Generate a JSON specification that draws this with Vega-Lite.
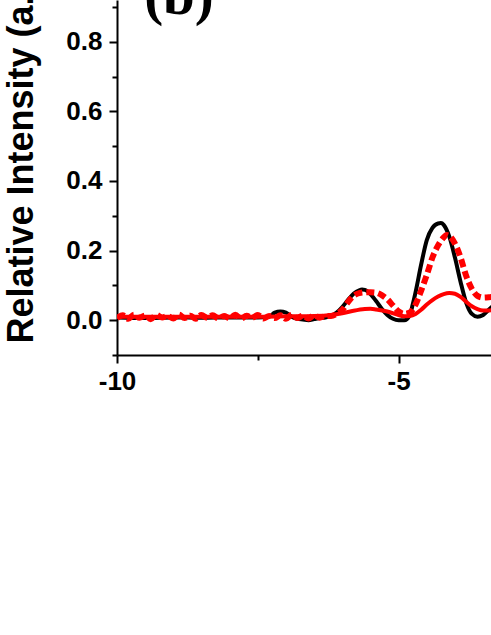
{
  "$schema": "https://vega.github.io/schema/vega-lite/v6.json",
  "width": 374,
  "height": 355,
  "autosize": {"type": "none"},
  "padding": {"left": 117, "top": 0, "right": 0, "bottom": 280},
  "background": "white",
  "config": {
    "view": {"stroke": null},
    "axis": {"grid": false, "domainColor": "black", "tickColor": "black", "domainWidth": 2, "tickWidth": 2,
      "labelFont": "Liberation Sans", "labelFontWeight": "bold", "labelFontSize": 26, "labelColor": "black"}
  },
  "datasets": {
    "curves": [
      {"series": "black", "x": -10, "y": 0.008}, {"series": "black", "x": -9.5, "y": 0.006}, {"series": "black", "x": -9.0, "y": 0.008},
      {"series": "black", "x": -8.5, "y": 0.007}, {"series": "black", "x": -8.0, "y": 0.008}, {"series": "black", "x": -7.5, "y": 0.008},
      {"series": "black", "x": -7.3, "y": 0.01}, {"series": "black", "x": -7.2, "y": 0.022}, {"series": "black", "x": -7.1, "y": 0.025},
      {"series": "black", "x": -7.0, "y": 0.022}, {"series": "black", "x": -6.9, "y": 0.01}, {"series": "black", "x": -6.8, "y": 0.004},
      {"series": "black", "x": -6.7, "y": 0.002}, {"series": "black", "x": -6.6, "y": 0.0}, {"series": "black", "x": -6.5, "y": 0.003},
      {"series": "black", "x": -6.4, "y": 0.006}, {"series": "black", "x": -6.3, "y": 0.008}, {"series": "black", "x": -6.2, "y": 0.012},
      {"series": "black", "x": -6.1, "y": 0.022}, {"series": "black", "x": -6.0, "y": 0.038}, {"series": "black", "x": -5.9, "y": 0.058},
      {"series": "black", "x": -5.8, "y": 0.076}, {"series": "black", "x": -5.7, "y": 0.086}, {"series": "black", "x": -5.65, "y": 0.088},
      {"series": "black", "x": -5.6, "y": 0.087}, {"series": "black", "x": -5.5, "y": 0.075}, {"series": "black", "x": -5.4, "y": 0.055},
      {"series": "black", "x": -5.3, "y": 0.033}, {"series": "black", "x": -5.2, "y": 0.015}, {"series": "black", "x": -5.1, "y": 0.004},
      {"series": "black", "x": -5.0, "y": 0.0}, {"series": "black", "x": -4.9, "y": 0.0}, {"series": "black", "x": -4.8, "y": 0.015},
      {"series": "black", "x": -4.75, "y": 0.045}, {"series": "black", "x": -4.7, "y": 0.08}, {"series": "black", "x": -4.6, "y": 0.16},
      {"series": "black", "x": -4.5, "y": 0.23}, {"series": "black", "x": -4.4, "y": 0.265}, {"series": "black", "x": -4.3, "y": 0.278},
      {"series": "black", "x": -4.25, "y": 0.279}, {"series": "black", "x": -4.2, "y": 0.274}, {"series": "black", "x": -4.1, "y": 0.24},
      {"series": "black", "x": -4.0, "y": 0.18}, {"series": "black", "x": -3.9, "y": 0.11}, {"series": "black", "x": -3.8, "y": 0.05},
      {"series": "black", "x": -3.7, "y": 0.018}, {"series": "black", "x": -3.6, "y": 0.01}, {"series": "black", "x": -3.5, "y": 0.015},
      {"series": "black", "x": -3.4, "y": 0.03}, {"series": "black", "x": -3.3, "y": 0.045},

      {"series": "dash", "x": -10, "y": 0.006}, {"series": "dash", "x": -9.9, "y": 0.014}, {"series": "dash", "x": -9.8, "y": 0.004},
      {"series": "dash", "x": -9.7, "y": 0.016}, {"series": "dash", "x": -9.6, "y": 0.007}, {"series": "dash", "x": -9.5, "y": 0.013},
      {"series": "dash", "x": -9.4, "y": 0.003}, {"series": "dash", "x": -9.3, "y": 0.015}, {"series": "dash", "x": -9.2, "y": 0.008},
      {"series": "dash", "x": -9.1, "y": 0.012}, {"series": "dash", "x": -9.0, "y": 0.005}, {"series": "dash", "x": -8.9, "y": 0.016},
      {"series": "dash", "x": -8.8, "y": 0.006}, {"series": "dash", "x": -8.7, "y": 0.013}, {"series": "dash", "x": -8.6, "y": 0.004},
      {"series": "dash", "x": -8.5, "y": 0.015}, {"series": "dash", "x": -8.4, "y": 0.007}, {"series": "dash", "x": -8.3, "y": 0.014},
      {"series": "dash", "x": -8.2, "y": 0.005}, {"series": "dash", "x": -8.1, "y": 0.012}, {"series": "dash", "x": -8.0, "y": 0.006},
      {"series": "dash", "x": -7.9, "y": 0.016}, {"series": "dash", "x": -7.8, "y": 0.004}, {"series": "dash", "x": -7.7, "y": 0.013},
      {"series": "dash", "x": -7.6, "y": 0.007}, {"series": "dash", "x": -7.5, "y": 0.015}, {"series": "dash", "x": -7.4, "y": 0.005},
      {"series": "dash", "x": -7.3, "y": 0.012}, {"series": "dash", "x": -7.2, "y": 0.006}, {"series": "dash", "x": -7.1, "y": 0.014},
      {"series": "dash", "x": -7.0, "y": 0.004}, {"series": "dash", "x": -6.9, "y": 0.015}, {"series": "dash", "x": -6.8, "y": 0.006},
      {"series": "dash", "x": -6.7, "y": 0.013}, {"series": "dash", "x": -6.6, "y": 0.005}, {"series": "dash", "x": -6.5, "y": 0.014},
      {"series": "dash", "x": -6.4, "y": 0.007}, {"series": "dash", "x": -6.3, "y": 0.012},
      {"series": "dash", "x": -6.2, "y": 0.012}, {"series": "dash", "x": -6.1, "y": 0.018},
      {"series": "dash", "x": -6.0, "y": 0.03}, {"series": "dash", "x": -5.9, "y": 0.052}, {"series": "dash", "x": -5.8, "y": 0.07},
      {"series": "dash", "x": -5.7, "y": 0.078}, {"series": "dash", "x": -5.6, "y": 0.08}, {"series": "dash", "x": -5.5, "y": 0.08},
      {"series": "dash", "x": -5.4, "y": 0.079}, {"series": "dash", "x": -5.3, "y": 0.072}, {"series": "dash", "x": -5.2, "y": 0.06},
      {"series": "dash", "x": -5.1, "y": 0.042}, {"series": "dash", "x": -5.0, "y": 0.025}, {"series": "dash", "x": -4.9, "y": 0.018},
      {"series": "dash", "x": -4.8, "y": 0.022}, {"series": "dash", "x": -4.7, "y": 0.045}, {"series": "dash", "x": -4.6, "y": 0.085},
      {"series": "dash", "x": -4.5, "y": 0.13}, {"series": "dash", "x": -4.4, "y": 0.18}, {"series": "dash", "x": -4.3, "y": 0.215},
      {"series": "dash", "x": -4.2, "y": 0.238}, {"series": "dash", "x": -4.15, "y": 0.245}, {"series": "dash", "x": -4.1, "y": 0.242},
      {"series": "dash", "x": -4.0, "y": 0.22}, {"series": "dash", "x": -3.9, "y": 0.18}, {"series": "dash", "x": -3.8, "y": 0.127},
      {"series": "dash", "x": -3.7, "y": 0.09}, {"series": "dash", "x": -3.6, "y": 0.07}, {"series": "dash", "x": -3.5, "y": 0.065},
      {"series": "dash", "x": -3.4, "y": 0.066}, {"series": "dash", "x": -3.3, "y": 0.068},

      {"series": "red", "x": -10, "y": 0.01}, {"series": "red", "x": -9, "y": 0.01}, {"series": "red", "x": -8, "y": 0.01},
      {"series": "red", "x": -7.5, "y": 0.01}, {"series": "red", "x": -7, "y": 0.011}, {"series": "red", "x": -6.5, "y": 0.012},
      {"series": "red", "x": -6.2, "y": 0.015}, {"series": "red", "x": -6.0, "y": 0.02}, {"series": "red", "x": -5.8, "y": 0.027},
      {"series": "red", "x": -5.6, "y": 0.032}, {"series": "red", "x": -5.5, "y": 0.033}, {"series": "red", "x": -5.4, "y": 0.031},
      {"series": "red", "x": -5.2, "y": 0.025}, {"series": "red", "x": -5.0, "y": 0.015}, {"series": "red", "x": -4.9, "y": 0.011},
      {"series": "red", "x": -4.8, "y": 0.012}, {"series": "red", "x": -4.7, "y": 0.018}, {"series": "red", "x": -4.6, "y": 0.03},
      {"series": "red", "x": -4.5, "y": 0.045}, {"series": "red", "x": -4.4, "y": 0.058}, {"series": "red", "x": -4.3, "y": 0.068},
      {"series": "red", "x": -4.2, "y": 0.075}, {"series": "red", "x": -4.1, "y": 0.078}, {"series": "red", "x": -4.0, "y": 0.076},
      {"series": "red", "x": -3.9, "y": 0.067}, {"series": "red", "x": -3.8, "y": 0.053}, {"series": "red", "x": -3.7, "y": 0.04},
      {"series": "red", "x": -3.6, "y": 0.032}, {"series": "red", "x": -3.5, "y": 0.028}, {"series": "red", "x": -3.4, "y": 0.028},
      {"series": "red", "x": -3.3, "y": 0.03}
    ],
    "annot": [{"label": "(b)", "x": -8.9, "y": 0.88}]
  },
  "encoding": {
    "x": {"field": "x", "type": "quantitative",
      "scale": {"domain": [-10, -3.36], "nice": false, "zero": false},
      "axis": {"title": null, "values": [-10, -7.5, -5, -2.5],
        "labelExpr": "datum.value % 5 == 0 ? '' + datum.value : ''",
        "tickSize": {"condition": {"test": "datum.value % 5 == 0", "value": 8}, "value": 5},
        "labelPadding": 5, "labelFlush": false, "labelOverlap": false}},
    "y": {"field": "y", "type": "quantitative",
      "scale": {"domain": [-0.1, 0.92], "nice": false, "zero": false},
      "axis": {"title": "Relative Intensity (a.u.)", "values": [-0.1, 0, 0.1, 0.2, 0.3, 0.4, 0.5, 0.6, 0.7, 0.8, 0.9],
        "labelExpr": "(round(datum.value * 10) % 2 == 0 && datum.value >= 0) ? format(datum.value, '.1f') : ''",
        "tickSize": {"condition": {"test": "round(datum.value * 10) % 2 == 0", "value": 8}, "value": 5},
        "labelPadding": 7, "labelFlush": false, "labelOverlap": false,
        "titleFont": "Liberation Sans", "titleFontWeight": "bold", "titleFontSize": 36, "titleColor": "black",
        "titleAngle": -90, "titleAlign": "left", "titleBaseline": "alphabetic", "titleX": -85, "titleY": 343}}
  },
  "layer": [
    {"data": {"name": "curves"}, "transform": [{"filter": "datum.series == 'black'"}],
      "mark": {"type": "line", "color": "black", "strokeWidth": 4, "clip": true, "interpolate": "monotone"}},
    {"data": {"name": "curves"}, "transform": [{"filter": "datum.series == 'dash'"}],
      "mark": {"type": "line", "color": "#ff0000", "strokeWidth": 6, "strokeDash": [8, 4], "clip": true, "interpolate": "monotone"}},
    {"data": {"name": "curves"}, "transform": [{"filter": "datum.series == 'red'"}],
      "mark": {"type": "line", "color": "#ff0000", "strokeWidth": 4, "clip": true, "interpolate": "monotone"}},
    {"data": {"name": "annot"},
      "mark": {"type": "text", "font": "Liberation Serif", "fontWeight": "bold", "fontSize": 57, "baseline": "alphabetic", "align": "center", "color": "black"},
      "encoding": {"text": {"field": "label"}}}
  ]
}
